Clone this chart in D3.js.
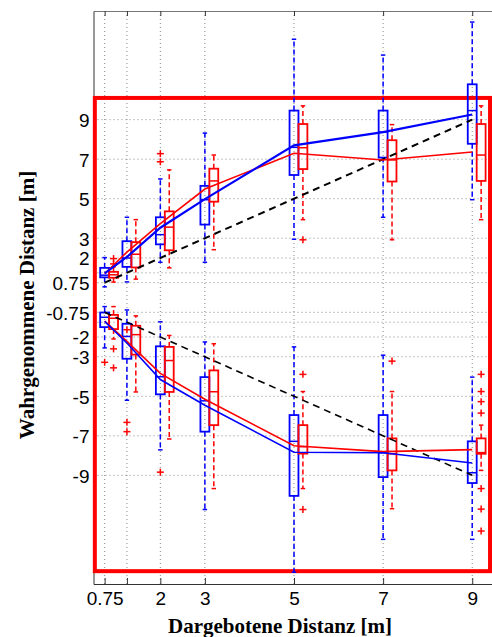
<!DOCTYPE html>
<html>
<head>
<meta charset="utf-8">
<script src="https://cdn.jsdelivr.net/npm/d3@7"></script>
<style>
  body { margin: 0; background: #fff; }
  .tick text { font-family: Arial, "Liberation Sans", sans-serif; font-size: 19px; fill: #000; }
  .title { font-family: "Times New Roman", "Liberation Serif", serif; font-weight: bold; font-size: 21px; fill: #000; }
</style>
</head>
<body>
<div class="chart"></div>
<script>
"use strict";

// DATA ----------------------------
const categories = [0.75, 1.25, 2, 3, 5, 7, 9];
const xTickLabels = ["0.75", "", "2", "3", "5", "7", "9"];
const yTicks = [-9, -7, -5, -3, -2, -1.25, -0.75, 0.75, 1.25, 2, 3, 5, 7, 9];
const yTickLabels = ["-9", "-7", "-5", "-3", "-2", "", "-0.75", "0.75", "", "2", "3", "5", "7", "9"];

// box stats per category: [lower whisker, q1, median, q3, upper whisker]
const upperBlue = [
  [0.54, 1.02, 1.13, 1.5, 2.02],
  [0.79, 1.55, 2.0, 2.85, 4.06],
  [1.78, 2.69, 3.18, 4.06, 6.0],
  [1.78, 3.69, 4.95, 5.65, 8.32],
  [2.95, 6.2, 7.6, 9.46, 13.07],
  [4.06, 7.08, 8.37, 9.46, 12.27],
  [4.95, 7.78, 9.46, 10.79, 13.94]
];
const upperRed = [
  [0.78, 1.0, 1.15, 1.3, 1.55],
  [0.93, 1.52, 2.19, 2.8, 3.94],
  [1.5, 2.39, 3.56, 4.36, 6.46],
  [2.42, 4.85, 5.9, 6.52, 7.21],
  [3.94, 6.5, 7.58, 8.78, 9.7],
  [2.92, 5.87, 6.96, 7.96, 8.75],
  [3.94, 5.9, 7.21, 8.78, 9.7]
];
const lowerBlue = [
  [-2.55, -1.5, -1.0, -0.76, -0.46],
  [-5.2, -3.1, -1.97, -1.33, -0.63],
  [-7.71, -4.9, -4.01, -2.47, -1.23],
  [-10.73, -6.79, -5.23, -4.03, -2.25],
  [-13.9, -10.04, -7.28, -5.95, -2.5],
  [-12.24, -9.09, -7.86, -5.95, -2.92],
  [-12.24, -9.39, -8.87, -7.28, -4.03]
];
const lowerRed = [
  [-2.1, -1.6, -1.05, -0.88, -0.46],
  [-4.78, -2.89, -1.88, -1.43, -0.93],
  [-7.16, -4.78, -3.19, -2.5, -1.92],
  [-9.67, -6.46, -4.77, -3.69, -2.34],
  [-9.67, -7.9, -7.55, -6.46, -4.76],
  [-10.69, -8.75, -7.91, -7.13, -4.76],
  [-8.75, -7.91, -7.85, -7.13, -6.46]
];

// outliers: [category, value]
const blueOutliers = [
  [2, 6.87], [2, 7.28],
  [0.75, -3.28], [1.25, -1.63], [1.25, -6.32], [1.25, -6.79], [2, -8.84]
];
const redOutliers = [
  [0.75, 1.7], [0.75, 1.97], [5, 2.92],
  [0.75, -2.6], [0.75, -3.56], [5, -3.89], [5, -10.73], [7, -3.22],
  [9, -3.89], [9, -4.76], [9, -5.27], [9, -5.85], [9, -9.67], [9, -10.71], [9, -11.82]
];

// connecting lines through the categories
const upperBlueLine = [1.22, 2.05, 3.53, 4.98, 7.7, 8.37, 9.26];
const upperRedLine = [1.2, 2.3, 3.74, 5.49, 7.3, 6.96, 7.36];
const lowerBlueLine = [-1.21, -2.3, -4.15, -5.45, -7.83, -7.86, -8.38];
const lowerRedLine = [-1.2, -2.22, -3.84, -5.15, -7.5, -7.8, -7.7];
const identityUpper = [[0.75, 0.75], [9, 9]];
const identityLower = [[0.75, -0.75], [9, -9]];

// highlighted region
const redFrame = { x0: 0.53, x1: 9.4, y0: -13.85, y1: 10.1 };

// CHART INIT ----------------------------
const WIDTH = 492, HEIGHT = 637;
const BLUE = "#0000ff", RED = "#ff0000";

const svg = d3
  .select(".chart")
  .append("svg")
  .attr("width", WIDTH)
  .attr("height", HEIGHT);

const xScale = d3.scaleLinear().domain([0.5, 9.5]).range([93.5, 494.5]);
const yScale = d3.scaleLinear().domain([-14.5, 14.5]).range([584, 11]);

const X0 = xScale.range()[0], X1 = xScale.range()[1];
const Y0 = yScale.range()[0], Y1 = yScale.range()[1];

// grid
const grid = svg.append("g").attr("class", "grid")
  .attr("stroke", "#888").attr("stroke-width", 1).attr("stroke-dasharray", "1,3");
grid.selectAll(".gx").data(categories).enter().append("line")
  .attr("x1", (d) => xScale(d)).attr("x2", (d) => xScale(d))
  .attr("y1", Y1).attr("y2", Y0);
grid.selectAll(".gy").data(yTicks).enter().append("line")
  .attr("x1", X0).attr("x2", X1)
  .attr("y1", (d) => yScale(d)).attr("y2", (d) => yScale(d));

// axes
const xAxis = d3.axisBottom(xScale).tickValues(categories)
  .tickFormat((d, i) => xTickLabels[i]).tickSizeInner(-6).tickSizeOuter(0).tickPadding(8);
const xTop = d3.axisTop(xScale).tickValues(categories)
  .tickFormat("").tickSizeInner(-5).tickSizeOuter(0);
const yAxis = d3.axisLeft(yScale).tickValues(yTicks)
  .tickFormat((d, i) => yTickLabels[i]).tickSizeInner(0).tickSizeOuter(0).tickPadding(4);

const xGroup = svg.append("g").attr("transform", `translate(0, ${Y0})`).call(xAxis);
const xTopGroup = svg.append("g").attr("transform", `translate(0, ${Y1})`).call(xTop);
const yGroup = svg.append("g").attr("transform", `translate(${X0}, 0)`).call(yAxis);

[xGroup, xTopGroup, yGroup].forEach((g) => {
  g.select(".domain").attr("stroke", "#333");
  g.selectAll(".tick line").attr("stroke", "#333");
});
xTopGroup.select(".domain").attr("stroke", "#777");
yGroup.selectAll(".tick text").attr("dy", "0.36em");

// red highlight frame
svg.append("rect")
  .attr("x", xScale(redFrame.x0))
  .attr("y", yScale(redFrame.y1))
  .attr("width", xScale(redFrame.x1) - xScale(redFrame.x0))
  .attr("height", yScale(redFrame.y0) - yScale(redFrame.y1))
  .attr("fill", "none")
  .attr("stroke", RED)
  .attr("stroke-width", 4);

// BOXES ----------------------------
const BOX_W = 0.2, CAP_W = 0.1;

function drawBoxes(stats, offset, color) {
  const g = svg.append("g").attr("stroke", color).attr("fill", "none");
  stats.forEach((s, i) => {
    const cx = categories[i] + offset;
    const [lo, q1, med, q3, hi] = s;
    // whiskers
    g.append("line").attr("x1", xScale(cx)).attr("x2", xScale(cx))
      .attr("y1", yScale(q3)).attr("y2", yScale(hi))
      .attr("stroke-width", 1.5).attr("stroke-dasharray", "5,3");
    g.append("line").attr("x1", xScale(cx)).attr("x2", xScale(cx))
      .attr("y1", yScale(q1)).attr("y2", yScale(lo))
      .attr("stroke-width", 1.5).attr("stroke-dasharray", "5,3");
    // caps
    [lo, hi].forEach((v) => {
      g.append("line")
        .attr("x1", xScale(cx - CAP_W / 2)).attr("x2", xScale(cx + CAP_W / 2))
        .attr("y1", yScale(v)).attr("y2", yScale(v))
        .attr("stroke-width", 1.5);
    });
    // box
    g.append("rect")
      .attr("x", xScale(cx - BOX_W / 2))
      .attr("y", yScale(q3))
      .attr("width", xScale(cx + BOX_W / 2) - xScale(cx - BOX_W / 2))
      .attr("height", yScale(q1) - yScale(q3))
      .attr("stroke-width", 1.8);
    // median
    g.append("line")
      .attr("x1", xScale(cx - BOX_W / 2)).attr("x2", xScale(cx + BOX_W / 2))
      .attr("y1", yScale(med)).attr("y2", yScale(med))
      .attr("stroke-width", 1.5);
  });
}

drawBoxes(upperBlue, 0, BLUE);
drawBoxes(lowerBlue, 0, BLUE);
drawBoxes(upperRed, 0.2, RED);
drawBoxes(lowerRed, 0.2, RED);

// outliers (red plus signs)
function drawOutliers(list, offset) {
  const g = svg.append("g").attr("stroke", RED).attr("stroke-width", 1.5);
  list.forEach(([c, v]) => {
    const px = xScale(c + offset), py = yScale(v);
    g.append("line").attr("x1", px - 3.5).attr("x2", px + 3.5).attr("y1", py).attr("y2", py);
    g.append("line").attr("x1", px).attr("x2", px).attr("y1", py - 3.5).attr("y2", py + 3.5);
  });
}
drawOutliers(blueOutliers, 0);
drawOutliers(redOutliers, 0.2);

// LINES ----------------------------
const line = d3.line().x((d) => xScale(d[0])).y((d) => yScale(d[1]));

svg.append("path").datum(identityUpper).attr("d", line)
  .attr("fill", "none").attr("stroke", "#000").attr("stroke-width", 2).attr("stroke-dasharray", "7,5");
svg.append("path").datum(identityLower).attr("d", line)
  .attr("fill", "none").attr("stroke", "#000").attr("stroke-width", 1.6).attr("stroke-dasharray", "7,5");

[[upperRedLine, RED, 1.6], [lowerRedLine, RED, 1.6], [upperBlueLine, BLUE, 2.2], [lowerBlueLine, BLUE, 1.6]]
  .forEach(([vals, color, w]) => {
    svg.append("path")
      .datum(vals.map((v, i) => [categories[i], v]))
      .attr("d", line)
      .attr("fill", "none")
      .attr("stroke", color)
      .attr("stroke-width", w);
  });

// TITLES ----------------------------
svg.append("text").attr("class", "title")
  .attr("x", 280).attr("y", 633)
  .attr("text-anchor", "middle")
  .text("Dargebotene Distanz [m]");

svg.append("text").attr("class", "title")
  .attr("transform", "translate(34, 305) rotate(-90)")
  .attr("text-anchor", "middle")
  .text("Wahrgenommene Distanz [m]");
</script>
</body>
</html>
